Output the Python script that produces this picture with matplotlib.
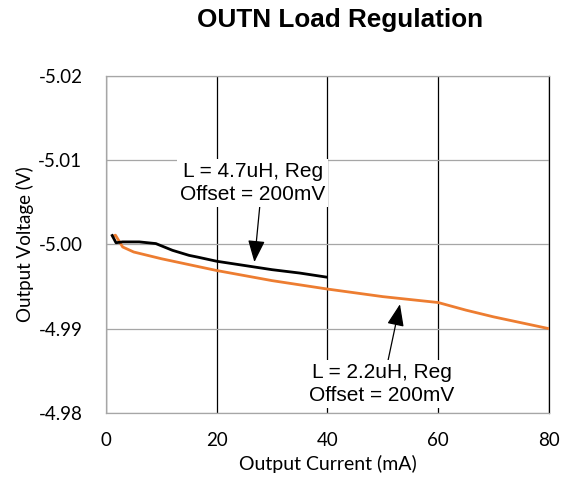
import matplotlib
matplotlib.use("Agg")
import matplotlib.pyplot as plt

# ── Data ────────────────────────────────────────────────────────────────
cur_47 = [1.0, 1.8, 3, 6, 9, 12, 15, 16.5, 20, 25, 30, 35, 40]
vout_47 = [-5.0012, -5.0002, -5.0003, -5.0003, -5.0001, -4.9993, -4.9987,
           -4.9985, -4.9980, -4.9975, -4.9970, -4.9966, -4.9961]

cur_22 = [1.0, 1.7, 3, 5, 10, 20, 30, 40, 50, 60, 65, 70, 80]
vout_22 = [-5.0009, -5.0011, -4.9997, -4.9991, -4.9983, -4.9969, -4.9957,
           -4.9947, -4.9938, -4.9931, -4.9922, -4.9914, -4.9900]

x_ticks = [0, 20, 40, 60, 80]
y_ticks = [-5.02, -5.01, -5.00, -4.99, -4.98]

ORANGE = "#ED7D31"
GRIDGREY = "#A6A6A6"
TICKFONT = "Lato"
ANNFONT = "Liberation Sans"

fig = plt.figure(figsize=(5.67, 4.84), dpi=100)
ax = fig.add_axes([0.187, 0.147, 0.781, 0.696])

ax.plot(cur_22, vout_22, color=ORANGE, linewidth=2.0, solid_capstyle="butt", zorder=3)
ax.plot(cur_47, vout_47, color="black", linewidth=2.0, solid_capstyle="butt", zorder=4)

ax.set_xlim(0, 80)
ax.set_ylim(-4.98, -5.02)
ax.set_xticks(x_ticks)
ax.set_yticks(y_ticks)
ax.set_yticklabels([f"{v:.2f}" for v in y_ticks])
ax.tick_params(length=0, labelsize=13.5)
ax.tick_params(axis="y", pad=17)
ax.tick_params(axis="x", pad=14)
for lab in ax.get_xticklabels() + ax.get_yticklabels():
    lab.set_fontfamily(TICKFONT)

ax.grid(axis="x", color="black", linewidth=0.9)
ax.grid(axis="y", color=GRIDGREY, linewidth=0.9)
ax.set_axisbelow(True)
for side in ["left", "bottom", "top"]:
    ax.spines[side].set_color(GRIDGREY)
    ax.spines[side].set_linewidth(0.9)
ax.spines["right"].set_color("black")
ax.spines["right"].set_linewidth(0.9)

ax.set_xlabel("Output Current (mA)", fontsize=14, fontfamily=TICKFONT, labelpad=4)
ax.set_ylabel("Output Voltage (V)", fontsize=13.5, fontfamily=TICKFONT, labelpad=3)

fig.text(0.600, 0.958, "OUTN Load Regulation", ha="center", va="center",
         fontsize=18.8, fontweight="bold", fontfamily=ANNFONT)

box = dict(facecolor="white", edgecolor="none", pad=2)
ax.annotate("L = 4.7uH, Reg\nOffset = 200mV", xy=(26.8, -4.9979), xytext=(26.5, -5.0073),
            ha="center", va="center", fontsize=15, fontfamily=ANNFONT,
            linespacing=1.3, bbox=box, zorder=5,
            arrowprops=dict(arrowstyle="-|>,head_length=0.9,head_width=0.35",
                            color="black", linewidth=0.9,
                            shrinkA=0, shrinkB=0, relpos=(0.55, 0.0)))
ax.annotate("L = 2.2uH, Reg\nOffset = 200mV", xy=(53.1, -4.9929), xytext=(49.8, -4.9834),
            ha="center", va="center", fontsize=15, fontfamily=ANNFONT,
            linespacing=1.3, bbox=box, zorder=5,
            arrowprops=dict(arrowstyle="-|>,head_length=0.9,head_width=0.35",
                            color="black", linewidth=0.9,
                            shrinkA=0, shrinkB=0, relpos=(0.54, 1.0)))

fig.savefig("out.png", dpi=100, facecolor="white")
